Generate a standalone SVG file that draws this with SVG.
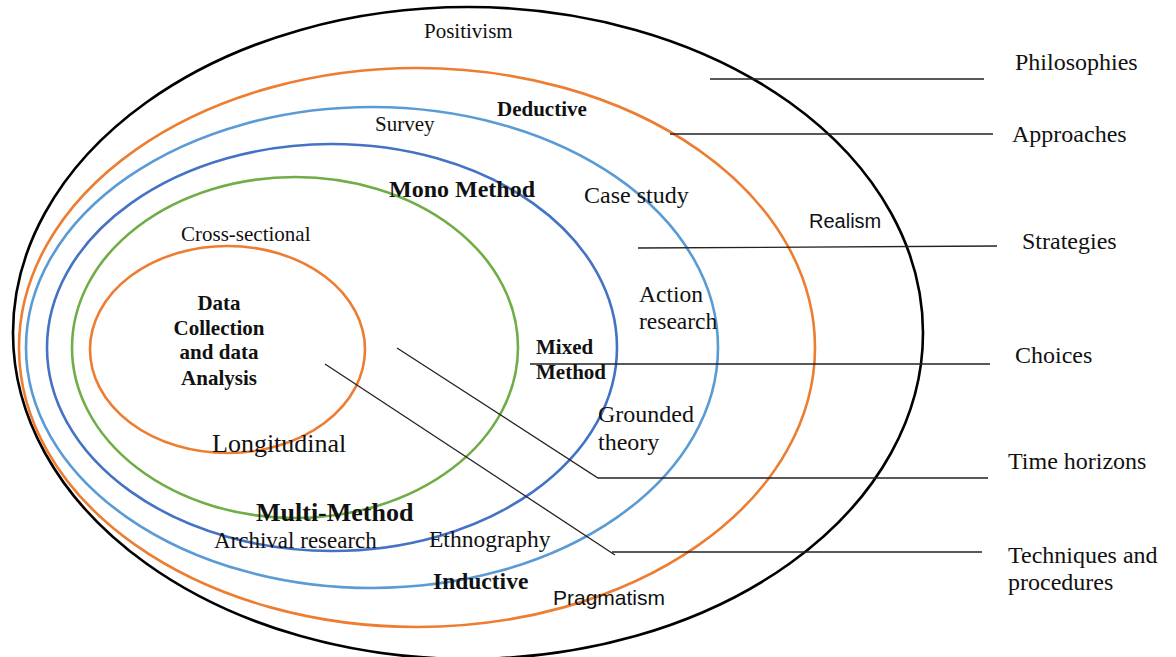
<svg xmlns="http://www.w3.org/2000/svg" width="1176" height="657" viewBox="0 0 1176 657">
<style>
.ring{fill:none;stroke-width:2.6}
.ln{fill:none;stroke:#222;stroke-width:1.3}
text{font-family:"Liberation Serif","Times New Roman",serif;fill:#111}
.b{font-weight:bold}
.s{font-family:"Liberation Sans",Arial,sans-serif}
.lab{font-size:24px}
</style>
<rect width="1176" height="657" fill="#fff"/>
<g id="philosophies-ring"><ellipse class="ring" cx="468" cy="333" rx="455" ry="326" stroke="#000"/></g>
<g id="approaches-ring"><ellipse class="ring" cx="417" cy="347.5" rx="398" ry="279.5" stroke="#ED7D31"/></g>
<g id="strategies-ring"><ellipse class="ring" cx="372" cy="347.5" rx="346" ry="240.5" stroke="#5B9BD5"/></g>
<g id="choices-ring"><ellipse class="ring" cx="332" cy="347.5" rx="285" ry="203.5" stroke="#4472C4"/></g>
<g id="time-ring"><ellipse class="ring" cx="295" cy="347.5" rx="223" ry="170.5" stroke="#70AD47"/></g>
<g id="core-ring"><ellipse class="ring" cx="227.5" cy="349.5" rx="137.5" ry="103.5" stroke="#ED7D31"/></g>
<g id="connectors">
<line class="ln" x1="710" y1="79" x2="984" y2="79"/>
<line class="ln" x1="670" y1="134" x2="993" y2="134"/>
<line class="ln" x1="638" y1="248" x2="997" y2="246"/>
<line class="ln" x1="530" y1="364" x2="990" y2="364"/>
<polyline class="ln" points="397,348 598,478 988,478"/>
<polyline class="ln" points="325,364 615,555"/>
<line class="ln" x1="612" y1="552" x2="982" y2="552"/>
</g>
<g id="ring-labels">
<text x="424" y="38" font-size="21">Positivism</text>
<text class="b" x="497" y="116" font-size="21">Deductive</text>
<text x="375" y="131" font-size="21">Survey</text>
<text class="b" x="389" y="197" font-size="24">Mono Method</text>
<text x="584" y="203" font-size="24">Case study</text>
<text class="s" x="809" y="228" font-size="20">Realism</text>
<text x="181" y="241" font-size="21">Cross-sectional</text>
<text class="b" font-size="21" text-anchor="middle"><tspan x="219" y="310">Data</tspan><tspan x="219" y="335">Collection</tspan><tspan x="219" y="359">and data</tspan><tspan x="219" y="385">Analysis</tspan></text>
<text font-size="23.5"><tspan x="639" y="302">Action</tspan><tspan x="639" y="329">research</tspan></text>
<text class="b" font-size="21"><tspan x="536" y="354">Mixed</tspan><tspan x="536" y="379">Method</tspan></text>
<text font-size="24"><tspan x="598" y="422">Grounded</tspan><tspan x="598" y="450">theory</tspan></text>
<text x="212" y="452" font-size="26">Longitudinal</text>
<text class="b" x="256" y="521" font-size="26">Multi-Method</text>
<text x="214" y="548" font-size="23">Archival research</text>
<text x="429" y="547" font-size="23.5">Ethnography</text>
<text class="b" x="433" y="589" font-size="23.5">Inductive</text>
<text class="s" x="553" y="605" font-size="21">Pragmatism</text>
</g>
<g id="layer-labels">
<text class="lab" x="1015" y="70">Philosophies</text>
<text class="lab" x="1012" y="142">Approaches</text>
<text class="lab" x="1022" y="249">Strategies</text>
<text class="lab" x="1015" y="363">Choices</text>
<text class="lab" x="1008" y="469">Time horizons</text>
<text class="lab" x="1008" y="563">Techniques and</text>
<text class="lab" x="1008" y="590">procedures</text>
</g>
</svg>
